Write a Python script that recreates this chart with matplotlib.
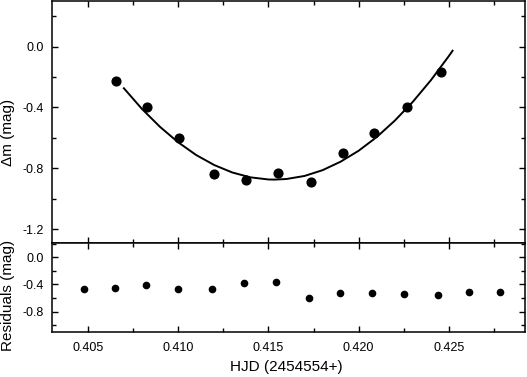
import matplotlib
matplotlib.use("Agg")
import matplotlib.pyplot as plt
from matplotlib.ticker import MultipleLocator

plt.rcParams['font.family'] = ['Liberation Sans', 'DejaVu Sans']

# Light curve data
hjd = [0.40655, 0.40828, 0.41006, 0.41198, 0.41375, 0.41555,
       0.41735, 0.41912, 0.42087, 0.42266, 0.42456]
dmag = [-0.226, -0.397, -0.599, -0.836, -0.879, -0.831,
        -0.892, -0.701, -0.566, -0.395, -0.166]

# Fitted curve
fit_hjd = [0.4070, 0.4080, 0.4090, 0.4100, 0.4110, 0.4120, 0.4130, 0.4140,
           0.4150, 0.4153, 0.4160, 0.4170, 0.4180, 0.4190, 0.4200, 0.4210,
           0.4220, 0.4230, 0.4240, 0.4250, 0.4252]
fit_mag = [-0.274, -0.410, -0.528, -0.629, -0.713, -0.779, -0.828, -0.860,
           -0.874, -0.875, -0.871, -0.851, -0.813, -0.757, -0.685, -0.595,
           -0.487, -0.363, -0.221, -0.061, -0.027]

# Residuals
res_hjd = [0.40480, 0.40650, 0.40823, 0.41000, 0.41188, 0.41366, 0.41543,
           0.41724, 0.41897, 0.42074, 0.42251, 0.42438, 0.42610, 0.42783]
res_mag = [-0.470, -0.447, -0.407, -0.466, -0.470, -0.382, -0.363,
           -0.594, -0.520, -0.520, -0.544, -0.550, -0.510, -0.515]

W, H = 527, 377
fig = plt.figure(figsize=(W / 100, H / 100), dpi=100)

left = 52 / W
right = 525 / W
top_y0 = 1 - 243 / H
top_y1 = 1 - 1 / H
bot_y0 = 1 - 332 / H

ax1 = fig.add_axes([left, top_y0, right - left, top_y1 - top_y0])
ax2 = fig.add_axes([left, bot_y0, right - left, top_y0 - bot_y0], sharex=ax1)

ax1.plot(fit_hjd, fit_mag, color='black', lw=1.4, zorder=2)
ax1.plot(hjd, dmag, 'o', color='black', ms=6.3, zorder=3)
ax2.plot(res_hjd, res_mag, 'o', color='black', ms=4.5)

ax1.set_xlim(0.40302, 0.42921)
ax1.set_ylim(-1.292, 0.300)
ax2.set_ylim(-1.10, 0.21)

for ax in (ax1, ax2):
    ax.xaxis.set_major_locator(MultipleLocator(0.005))
    ax.xaxis.set_minor_locator(MultipleLocator(0.0025))
    ax.yaxis.set_major_locator(MultipleLocator(0.4))
    ax.yaxis.set_minor_locator(MultipleLocator(0.2))
    ax.tick_params(which='both', direction='in', top=True, right=True,
                   width=1.0, labelsize=9)
    ax.tick_params(which='major', length=4.5)
    ax.tick_params(which='minor', length=3)
    ax.tick_params(axis='y', which='major', pad=6)
    for s in ax.spines.values():
        s.set_linewidth(1.1)
    ax.yaxis.set_major_formatter(plt.FuncFormatter(lambda v, p: f"{v:.1f}"))

ax1.tick_params(labelbottom=False)
ax2.tick_params(axis='x', which='major', pad=7)
ax2.xaxis.set_major_formatter(plt.FuncFormatter(lambda v, p: f"{v:.3f}"))

fig.text(8.5 / W, 1 - 132.5 / H, 'Δm (mag)', rotation=90,
         ha='center', va='center', fontsize=11)
fig.text(8.5 / W, 1 - 295 / H, 'Residuals (mag)', rotation=90,
         ha='center', va='center', fontsize=11)
fig.text(286 / W, 1 - 367.5 / H, 'HJD (2454554+)',
         ha='center', va='center', fontsize=11)

fig.savefig('out.png', dpi=100)
